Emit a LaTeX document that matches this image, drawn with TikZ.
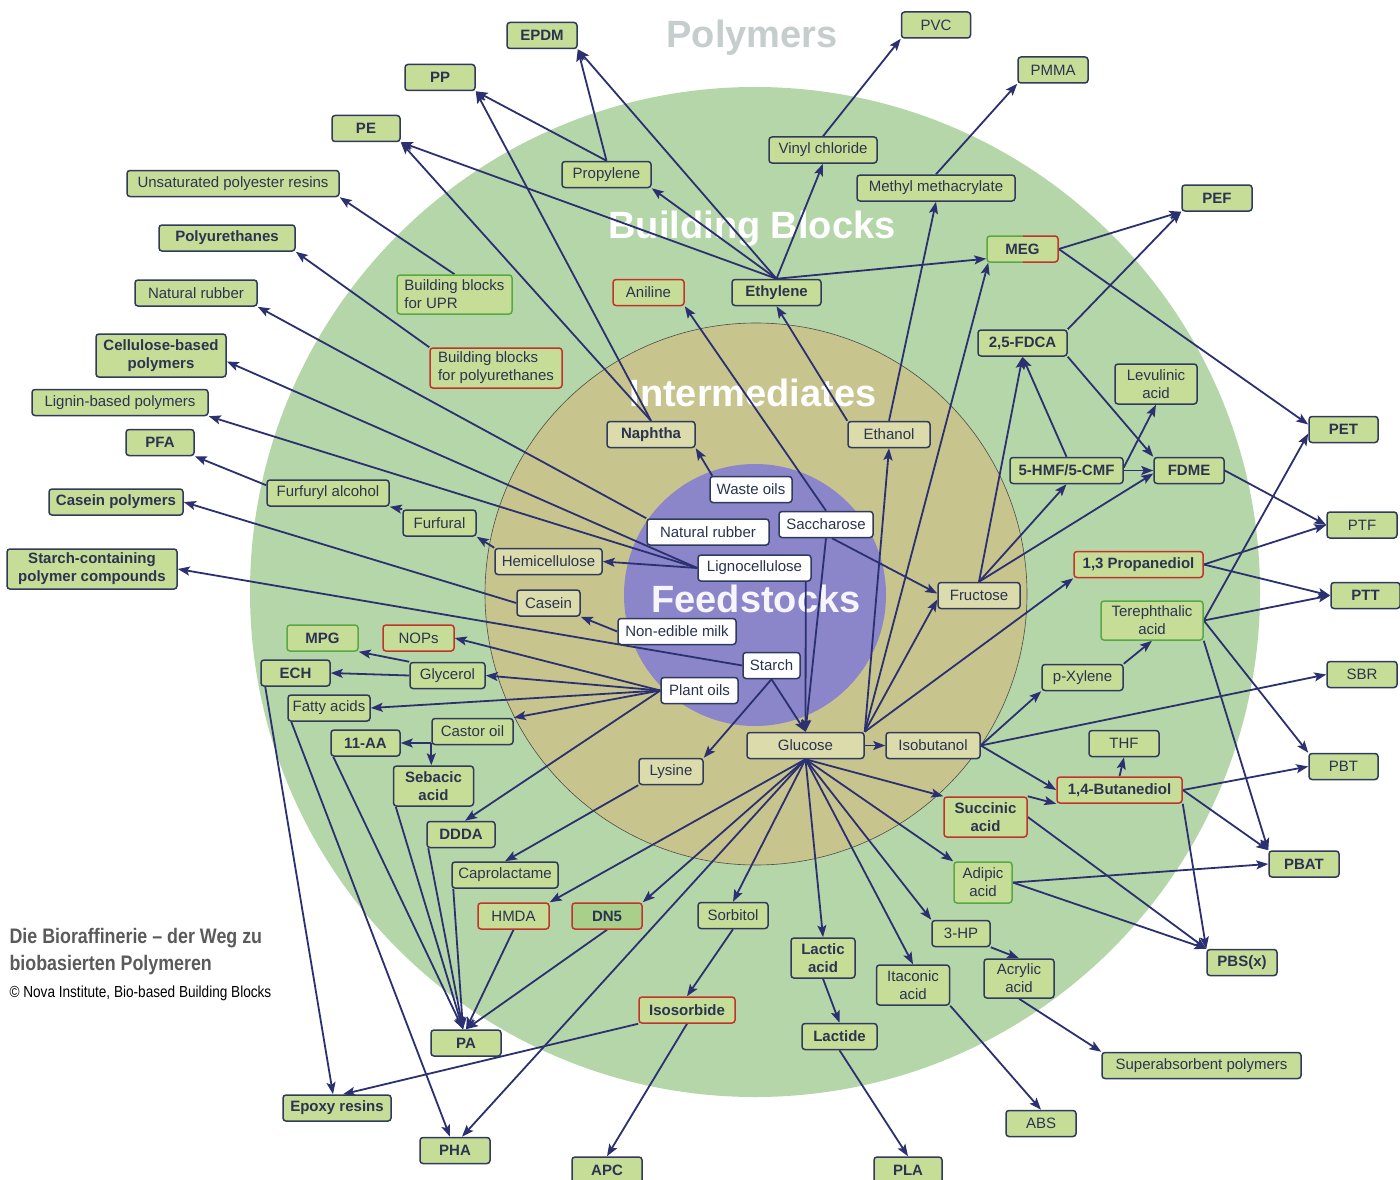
\documentclass[tikz,border=0pt]{standalone}
\usepackage{fontspec}
\setmainfont{Liberation Sans}
\newfontfamily\capfont[FakeStretch=0.85]{Liberation Sans}
\usetikzlibrary{arrows.meta}
\definecolor{cgreen}{HTML}{B5D6A9}
\definecolor{cinter}{HTML}{C8C48E}
\definecolor{cfeed}{HTML}{8B85C9}
\definecolor{bfill}{HTML}{C6DD98}
\definecolor{dnfill}{HTML}{A9D08A}
\definecolor{ifill}{HTML}{DCDBAC}
\definecolor{navy}{HTML}{2F3A5C}
\definecolor{redc}{HTML}{C4332B}
\definecolor{greenc}{HTML}{58A844}
\definecolor{txt}{HTML}{2A3450}
\definecolor{arrc}{HTML}{2B3070}
\definecolor{polyc}{HTML}{C5CDCD}
\definecolor{capc}{HTML}{5A5A5A}
\pgfdeclarelayer{bg}
\pgfdeclarelayer{edges}
\pgfsetlayers{bg,edges,main}
\tikzset{
  nbox/.style={rounded corners=3pt, line width=1.5pt, draw=navy, fill=bfill, text=txt,
    font=\fontsize{15}{18}\selectfont, inner xsep=2pt, inner ysep=2pt,
    minimum height=26pt, align=center},
  bf/.style={font=\fontsize{15}{18}\selectfont\bfseries},
  redbox/.style={draw=redc},
  grbox/.style={draw=greenc},
  ibox/.style={nbox, fill=ifill},
  fbox/.style={nbox, fill=white},
  tall/.style={minimum height=40pt},
  arr/.style={draw=arrc, line width=1.8pt, -{Stealth[length=12pt,width=9pt,inset=2.5pt]}},
  big/.style={font=\fontsize{38}{40}\selectfont\bfseries}
}
\begin{document}
\begin{tikzpicture}[x=1pt,y=-1pt]
\useasboundingbox (0,0) rectangle (1400,1180);
\begin{pgfonlayer}{bg}
\fill[white] (0,0) rectangle (1400,1180);
\fill[cgreen] (755,592) circle[radius=505pt];
\filldraw[fill=cinter, draw=black!70, line width=0.6pt] (756,594) circle[radius=271pt];
\fill[cfeed] (755,595) circle[radius=131pt];
\node[big, text=polyc] (lpoly) at (752,38) {Polymers};
\node[big, text=white] (lbb) at (752,229) {Building Blocks};
\node[big, text=white] (linter) at (753,393) {Intermediates};
\node[big, text=white!92!cfeed] (lfeed) at (756,599) {Feedstocks};
\end{pgfonlayer}

% caption
\node[anchor=base west, text=capc, font=\capfont\fontsize{21}{24}\selectfont\bfseries] (cap1) at (6,943) {Die Bioraffinerie – der Weg zu};
\node[anchor=base west, text=capc, font=\capfont\fontsize{21}{24}\selectfont\bfseries] (cap2) at (6,970) {biobasierten Polymeren};
\node[anchor=base west, text=black, font=\capfont\fontsize{16}{18}\selectfont] (cap3) at (6,997) {© Nova Institute, Bio-based Building Blocks};

% ---------- polymers ----------
\node[nbox,bf,minimum width=70] (epdm) at (542,35.5) {EPDM};
\node[nbox,bf,minimum width=70] (pp) at (440,77.5) {PP};
\node[nbox,bf,minimum width=68] (pe) at (366,128.5) {PE};
\node[nbox,minimum width=69] (pvc) at (936,25) {PVC};
\node[nbox,minimum width=70] (pmma) at (1053,70) {PMMA};
\node[nbox,bf,minimum width=70] (pef) at (1217,198) {PEF};
\node[nbox,minimum width=212] (upr) at (233,183.5) {Unsaturated polyester resins};
\node[nbox,bf,minimum width=136] (pu) at (227,238) {Polyurethanes};
\node[nbox,minimum width=122] (nrp) at (196,293) {Natural rubber};
\node[nbox,bf,minimum width=130,minimum height=43] (cell) at (161,355.5) {Cellulose-based\\polymers};
\node[nbox,minimum width=176] (lignin) at (120,402.5) {Lignin-based polymers};
\node[nbox,bf,minimum width=68] (pfa) at (160,442.5) {PFA};
\node[nbox,bf,minimum width=134] (caseinp) at (116,502) {Casein polymers};
\node[nbox,bf,minimum width=170,tall] (starchp) at (92,569) {Starch-containing\\polymer compounds};
\node[nbox,bf,minimum width=69] (pet) at (1343.5,429.5) {PET};
\node[nbox,minimum width=70] (ptf) at (1362,525) {PTF};
\node[nbox,bf,minimum width=69] (ptt) at (1365.5,595.5) {PTT};
\node[nbox,minimum width=70] (sbr) at (1362,674.5) {SBR};
\node[nbox,minimum width=69] (pbt) at (1343.5,766.5) {PBT};
\node[nbox,bf,minimum width=70] (pbat) at (1304,864) {PBAT};
\node[nbox,bf,minimum width=70] (pbs) at (1242,962.5) {PBS(x)};
\node[nbox,minimum width=199] (sap) at (1201.5,1065.5) {Superabsorbent polymers};
\node[nbox,minimum width=70] (abs) at (1041,1123.5) {ABS};
\node[nbox,bf,minimum width=68] (pla) at (908,1170) {PLA};
\node[nbox,bf,minimum width=70] (apc) at (607,1170) {APC};
\node[nbox,bf,minimum width=70] (pha) at (455,1150.5) {PHA};
\node[nbox,bf,minimum width=108] (epoxy) at (337,1108) {Epoxy resins};
\node[nbox,bf,minimum width=70] (pa) at (466,1043) {PA};

% ---------- building blocks ----------
\node[nbox,minimum width=89] (propylene) at (606.5,174.5) {Propylene};
\node[nbox,minimum width=108] (vinyl) at (823,150) {Vinyl chloride};
\node[nbox,minimum width=158] (mma) at (936,188) {Methyl methacrylate};
\node[nbox,bf,minimum width=89] (ethylene) at (776.5,292.5) {Ethylene};
\node[nbox,redbox,minimum width=71] (aniline) at (648.5,292.5) {Aniline};
\node[nbox,grbox,minimum width=115,minimum height=39,align=left] (bbupr) at (454.5,294.5) {Building blocks\\for UPR};
\node[nbox,redbox,minimum width=132,tall,align=left] (bbpu) at (496,368) {Building blocks\\for polyurethanes};
\node[nbox,bf,draw=none,minimum width=71] (meg) at (1022.5,249) {MEG};
\begin{scope}
\clip ([xshift=-4pt,yshift=4pt]meg.north west) rectangle ([yshift=-4pt]meg.south);
\draw[greenc, line width=1.5pt, rounded corners=3pt] ([xshift=0.75pt,yshift=-0.75pt]meg.north west) rectangle ([xshift=-0.75pt,yshift=0.75pt]meg.south east);
\end{scope}
\begin{scope}
\clip ([yshift=4pt]meg.north) rectangle ([xshift=4pt,yshift=-4pt]meg.south east);
\draw[redc, line width=1.5pt, rounded corners=3pt] ([xshift=0.75pt,yshift=-0.75pt]meg.north west) rectangle ([xshift=-0.75pt,yshift=0.75pt]meg.south east);
\end{scope}
\node[nbox,bf,minimum width=89] (fdca) at (1022.5,343) {2,5-FDCA};
\node[nbox,minimum width=82,tall] (levulinic) at (1156,384) {Levulinic\\acid};
\node[nbox,bf,minimum width=113] (hmf) at (1066.5,470.5) {5-HMF/5-CMF};
\node[nbox,bf,minimum width=70] (fdme) at (1189,470.5) {FDME};
\node[nbox,bf,redbox,minimum width=129] (pdo) at (1138.5,564.5) {1,3 Propanediol};
\node[nbox,grbox,minimum width=102,minimum height=39] (tpa) at (1152,620.5) {Terephthalic\\acid};
\node[nbox,minimum width=81] (pxylene) at (1082.5,677.5) {p-Xylene};
\node[nbox,minimum width=70] (thf) at (1124,743.5) {THF};
\node[nbox,bf,redbox,minimum width=125] (bdo) at (1119.5,790) {1,4-Butanediol};
\node[nbox,bf,redbox,minimum width=83,tall] (succinic) at (985.5,817) {Succinic\\acid};
\node[nbox,grbox,minimum width=58,minimum height=41] (adipic) at (983,882.5) {Adipic\\acid};
\node[nbox,minimum width=58] (hpthree) at (961,933.5) {3-HP};
\node[nbox,minimum width=70,minimum height=39] (acrylic) at (1019,978.5) {Acrylic\\acid};
\node[nbox,minimum width=73,tall] (itaconic) at (913,985) {Itaconic\\acid};
\node[nbox,bf,minimum width=64,tall] (lactic) at (823,958) {Lactic\\acid};
\node[nbox,bf,minimum width=75] (lactide) at (839.5,1036.5) {Lactide};
\node[nbox,minimum width=70] (sorbitol) at (733,915.5) {Sorbitol};
\node[nbox,bf,redbox,minimum width=96] (isosorbide) at (687,1010) {Isosorbide};
\node[nbox,bf,redbox,fill=dnfill,minimum width=70] (dnfive) at (607,916) {DN5};
\node[nbox,redbox,minimum width=71] (hmda) at (513.5,916) {HMDA};
\node[nbox,minimum width=106] (capro) at (505,875) {Caprolactame};
\node[nbox,bf,minimum width=68] (ddda) at (461,834.5) {DDDA};
\node[nbox,bf,minimum width=80,tall] (sebacic) at (433.5,786) {Sebacic\\acid};
\node[nbox,bf,minimum width=69] (aaeleven) at (365.5,743) {11-AA};
\node[nbox,minimum width=81] (castor) at (472.5,731.5) {Castor oil};
\node[nbox,minimum width=82] (fatty) at (329,708) {Fatty acids};
\node[nbox,bf,minimum width=69] (ech) at (295.5,673) {ECH};
\node[nbox,bf,grbox,minimum width=71] (mpg) at (322.5,638) {MPG};
\node[nbox,redbox,minimum width=71] (nops) at (418.5,638) {NOPs};
\node[nbox,minimum width=75] (glycerol) at (447.5,675.5) {Glycerol};
\node[nbox,minimum width=122] (furfuryl) at (328,493) {Furfuryl alcohol};
\node[nbox,minimum width=73] (furfural) at (439.5,523) {Furfural};

% ---------- intermediates ----------
\node[ibox,bf,minimum width=88] (naphtha) at (651,434.5) {Naphtha};
\node[ibox,minimum width=82] (ethanol) at (889,434.5) {Ethanol};
\node[ibox,minimum width=107] (hemi) at (548.5,561.5) {Hemicellulose};
\node[ibox,minimum width=63] (casein) at (548.5,603) {Casein};
\node[ibox,minimum width=82] (fructose) at (979,595.5) {Fructose};
\node[ibox,minimum width=117] (glucose) at (805.5,745.5) {Glucose};
\node[ibox,minimum width=94] (isobutanol) at (933,745.5) {Isobutanol};
\node[ibox,minimum width=64] (lysine) at (671,771.5) {Lysine};

% ---------- feedstocks ----------
\node[fbox,minimum width=82] (waste) at (751,489.5) {Waste oils};
\node[fbox,minimum width=122] (nrf) at (708,532) {Natural rubber};
\node[fbox,minimum width=94] (sacch) at (826,524.5) {Saccharose};
\node[fbox,minimum width=113] (ligno) at (754.5,568) {Lignocellulose};
\node[fbox,minimum width=118] (milk) at (677,631.5) {Non-edible milk};
\node[fbox,minimum width=57] (starch) at (771.5,665.5) {Starch};
\node[fbox,minimum width=77] (plant) at (699.5,690.5) {Plant oils};

% ---------- connectors ----------
\begin{pgfonlayer}{edges}
\draw[arr] (vinyl.north) -- (pvc.south west);
\draw[arr] (mma.north) -- (pmma.south west);
\draw[arr] (ethylene.north) -- (pe.south east);
\draw[arr] (ethylene.north) -- (propylene.south east);
\draw[arr] (ethylene.north) -- (epdm.south east);
\draw[arr] (ethylene.north) -- (vinyl.south);
\draw[arr] (ethylene.north) -- ([yshift=4pt]meg.south west);
\draw[arr] (propylene.north) -- (epdm.south east);
\draw[arr] (propylene.north) -- (pp.south east);
\draw[arr] (naphtha.north) -- (pp.south east);
\draw[arr] (naphtha.north) -- (pe.south east);
\draw[arr] ([xshift=3pt]waste.north west) -- (naphtha.south east);
\draw[arr] (sacch.north) -- (aniline.south east);
\draw[arr] (nrf.north west) -- (nrp.south east);
\draw[arr] (ligno.west) -- ([yshift=-6pt]cell.east);
\draw[arr] (ligno.west) -- (lignin.south east);
\draw[arr] (ligno.west) -- (hemi.east);
\draw[arr] (hemi.north west) -- (furfural.south east);
\draw[arr] (furfural.north west) -- (furfuryl.south east);
\draw[arr] ([yshift=-6pt]furfuryl.north west) -- (pfa.south east);
\draw[arr] (casein.west) -- (caseinp.east);
\draw[arr] (milk.west) -- (casein.south east);
\draw[arr] (starch.west) -- (starchp.east);
\draw[arr] (starch.south) -- (glucose.north);
\draw[arr] (starch.south) -- (lysine.north east);
\draw[arr] (sacch.south) -- (glucose.north);
\draw[arr] ([xshift=-6pt]ligno.south east) -- (glucose.north);
\draw[arr] ([xshift=6pt]sacch.south) -- ([yshift=2pt]fructose.west);
\draw[arr] (glucose.north east) -- ([yshift=-4pt]fructose.west);
\draw[arr] (glucose.north east) -- (ethanol.south);
\draw[arr] (glucose.north east) -- ([xshift=2pt]meg.south west);
\draw[arr] (glucose.north east) -- (pdo.south west);
\draw[arr] (ethanol.north west) -- (ethylene.south);
\draw[arr] (ethanol.north) -- (mma.south);
\draw[arr] (plant.west) -- (nops.east);
\draw[arr] (plant.west) -- (glycerol.east);
\draw[arr] (plant.west) -- (fatty.east);
\draw[arr] (plant.west) -- (castor.north east);
\draw[arr] (plant.west) -- ([xshift=4pt]ddda.north);
\draw[arr] (glycerol.north west) -- (mpg.south east);
\draw[arr] (glycerol.west) -- (ech.east);
\draw[arr] (castor.south west |- aaeleven.east) -- (aaeleven.east);
\draw[arr] (castor.south west |- aaeleven.east) -- (castor.south west |- sebacic.north);
\draw[arr] ([xshift=5pt]ech.south west) -- ([xshift=-4pt]epoxy.north);
\draw[arr] ([xshift=4pt]fatty.south west) -- ([xshift=-5pt]pha.north);
\draw[arr] ([xshift=3pt]aaeleven.south west) -- ([xshift=-3pt]pa.north);
\draw[arr] ([xshift=3pt]sebacic.south west) -- ([xshift=-3pt]pa.north);
\draw[arr] ([xshift=2pt]ddda.south west) -- ([xshift=-3pt]pa.north);
\draw[arr] ([xshift=2pt]capro.south west) -- ([xshift=-3pt]pa.north);
\draw[arr] (hmda.south) -- (pa.north);
\draw[arr] (dnfive.south) -- (pa.north);
\draw[arr] (lysine.south west) -- (capro.north);
\draw[arr] (glucose.south) -- (hmda.north east);
\draw[arr] (glucose.south) -- (dnfive.north east);
\draw[arr] (glucose.south) -- ([xshift=7pt]pha.north);
\draw[arr] (glucose.south) -- (sorbitol.north);
\draw[arr] (glucose.south) -- (lactic.north);
\draw[arr] (glucose.south) -- (itaconic.north);
\draw[arr] (glucose.south) -- (hpthree.north west);
\draw[arr] (glucose.south) -- (adipic.north west);
\draw[arr] (glucose.south) -- (succinic.north west);
\draw[arr] (glucose.east) -- (isobutanol.west);
\draw[arr] (fructose.north) -- (fdca.south);
\draw[arr] (fructose.north) -- (hmf.south);
\draw[arr] (fructose.north) -- ([yshift=-3pt]fdme.west);
\draw[arr] (hmf.north) -- (fdca.south);
\draw[arr] (hmf.east) -- (fdme.west);
\draw[arr] ([yshift=3pt]hmf.east) -- (levulinic.south);
\draw[arr] (fdca.north east) -- (pef.south west);
\draw[arr] (fdca.south east) -- (fdme.north west);
\draw[arr] (meg.east) -- (pef.south west);
\draw[arr] (meg.east) -- ([yshift=5pt]pet.west);
\draw[arr] (fdme.east) -- (ptf.west);
\draw[arr] (pdo.east) -- (ptf.west);
\draw[arr] (pdo.east) -- (ptt.west);
\draw[arr] (tpa.east) -- (ptt.west);
\draw[arr] (tpa.east) -- ([yshift=-4pt]pet.west);
\draw[arr] (tpa.east) -- (pbt.north west);
\draw[arr] (tpa.south east) -- (pbat.north west);
\draw[arr] (pxylene.north east) -- (tpa.south);
\draw[arr] (isobutanol.east) -- (pxylene.south west);
\draw[arr] (isobutanol.east) -- (sbr.west);
\draw[arr] (isobutanol.east) -- (bdo.west);
\draw[arr] (succinic.north east) -- (bdo.south west);
\draw[arr] (bdo.north) -- (thf.south);
\draw[arr] (bdo.east) -- (pbt.west);
\draw[arr] (bdo.east) -- (pbat.north west);
\draw[arr] (bdo.south east) -- (pbs.north west);
\draw[arr] (succinic.east) -- (pbs.north west);
\draw[arr] (adipic.east) -- (pbat.west);
\draw[arr] (adipic.east) -- (pbs.north west);
\draw[arr] (hpthree.south east) -- (acrylic.north);
\draw[arr] (acrylic.south) -- (sap.north west);
\draw[arr] (itaconic.south east) -- (abs.north);
\draw[arr] (lactic.south) -- (lactide.north);
\draw[arr] (lactide.south) -- (pla.north);
\draw[arr] (sorbitol.south) -- (isosorbide.north);
\draw[arr] (isosorbide.south) -- (apc.north);
\draw[arr] (isosorbide.south west) -- ([xshift=6pt]epoxy.north);
\draw[arr] (bbupr.north) -- (upr.south east);
\draw[arr] (bbpu.north west) -- (pu.south east);
\end{pgfonlayer}
\end{tikzpicture}
\end{document}
